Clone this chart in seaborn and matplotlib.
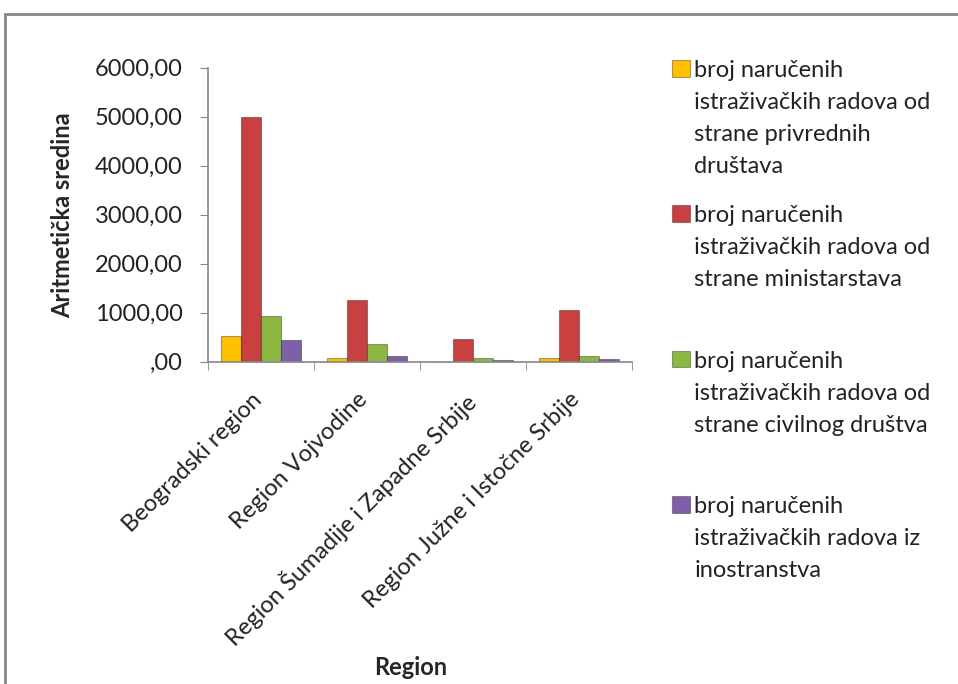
import textwrap
import pandas as pd
import seaborn as sns
import matplotlib.pyplot as plt
from matplotlib.patches import Rectangle
from matplotlib.ticker import FuncFormatter, FixedLocator
from matplotlib.transforms import ScaledTranslation

regions = ["Beogradski region", "Region Vojvodine",
           "Region Šumadije i Zapadne Srbije", "Region Južne i Istočne Srbije"]
series = [
    "broj naručenih istraživačkih radova od strane privrednih društava",
    "broj naručenih istraživačkih radova od strane ministarstava",
    "broj naručenih istraživačkih radova od strane civilnog društva",
    "broj naručenih istraživačkih radova iz inostranstva",
]
privredna = [524, 88, 5, 88]
ministarstva = [5000, 1259, 476, 1054]
civilno = [939, 360, 82, 109]
inostranstvo = [442, 129, 34, 48]
colors = ["#FFC000", "#C8403F", "#8DB843", "#7E5FA8"]

FS = 17


def wrap(label):
    lines = textwrap.wrap(label, width=23)
    lines += [""] * (4 - len(lines))
    return "\n".join(lines)


def fmt(v, pos):
    s = f"{v:.2f}".replace(".", ",")
    return s[1:] if s.startswith("0,") else s


def main():
    rows = []
    for name, vals in zip(series, [privredna, ministarstva, civilno, inostranstvo]):
        for reg, v in zip(regions, vals):
            rows.append({"Region": reg, "serija": wrap(name), "vrednost": v})
    df = pd.DataFrame(rows)

    sns.set_style("white")
    plt.rcParams["font.family"] = ["Lato", "DejaVu Sans"]

    fig = plt.figure(figsize=(9.58, 6.84), dpi=100)
    ax = fig.add_axes([0.217, 0.471, 0.443, 0.43])
    sns.barplot(data=df, x="Region", y="vrednost", hue="serija",
                palette=colors, width=0.75, gap=0, ax=ax,
                edgecolor="#00000055", linewidth=0.8, saturation=1)

    ax.set_ylim(0, 6000)
    ax.set_xlim(-0.5, 3.5)
    ax.yaxis.set_major_formatter(FuncFormatter(fmt))
    ax.set_yticks(range(0, 6001, 1000))
    ax.tick_params(axis="y", labelsize=FS, length=6, color="#868686",
                   direction="out", left=True, pad=12, labelcolor="#222222")
    ax.xaxis.set_minor_locator(FixedLocator([-0.5, 0.5, 1.5, 2.5, 3.5]))
    ax.tick_params(axis="x", which="minor", length=6, color="#868686",
                   bottom=True, direction="out")
    ax.tick_params(axis="x", which="major", length=0, labelsize=FS, pad=8,
                   labelcolor="#222222")
    shift = ScaledTranslation(-0.10, -0.16, fig.dpi_scale_trans)
    for lab in ax.get_xticklabels():
        lab.set_rotation(45)
        lab.set_ha("right")
        lab.set_rotation_mode("anchor")
        lab.set_transform(lab.get_transform() + shift)

    sns.despine(ax=ax)
    for sp in ["left", "bottom"]:
        ax.spines[sp].set_color("#868686")
        ax.spines[sp].set_linewidth(1.2)

    ax.set_ylabel("Aritmetička sredina", fontsize=FS, fontweight="bold")
    ax.yaxis.set_label_coords(-0.315, 0.5)
    ax.set_xlabel("Region", fontsize=FS, fontweight="bold")
    ax.xaxis.set_label_coords(0.479, -1.0)

    leg = ax.legend(loc="upper left", bbox_to_anchor=(672 / 958, 1 - 60 / 684),
                    bbox_transform=fig.transFigure, frameon=False, borderpad=0,
                    borderaxespad=0, fontsize=FS, handlelength=0.75,
                    handleheight=0.7, handletextpad=0.2, labelspacing=1.22)
    for t in leg.get_texts():
        t.set_linespacing(1.64)
        t.set_color("#222222")
    for col in leg._legend_handle_box.get_children():
        for hp in col.get_children():
            hp.align = "top"

    fig.patches.append(Rectangle((5 / 958, -0.1), 1.2, 1 - 14 / 684 + 0.1,
                                 transform=fig.transFigure, fill=False,
                                 edgecolor="#888888", linewidth=2))

    fig.savefig("out.png", dpi=100)


if __name__ == "__main__":
    main()
